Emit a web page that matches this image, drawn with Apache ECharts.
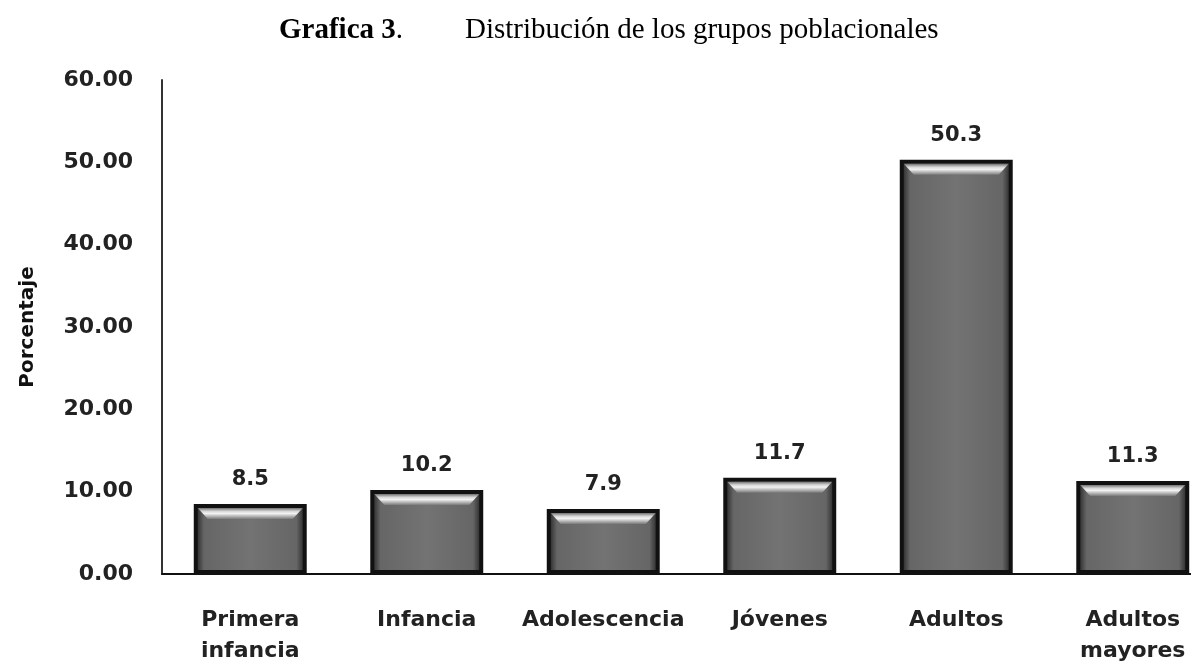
<!DOCTYPE html>
<html>
<head>
<meta charset="utf-8">
<script src="https://cdn.jsdelivr.net/npm/echarts@6/dist/echarts.min.js"></script>
<style>
html,body{margin:0;padding:0;background:#fff;overflow:hidden;width:1191px;height:667px;}
#c{width:1232px;height:667px;}
</style>
</head>
<body>
<div id="c"></div>
<script>
const categories = ['Primera\ninfancia', 'Infancia', 'Adolescencia', 'Jóvenes', 'Adultos', 'Adultos\nmayores'];
const values = [8.5, 10.2, 7.9, 11.7, 50.3, 11.3];
const yTicks = [0, 10, 20, 30, 40, 50, 60];

const chart = echarts.init(document.getElementById('c'));
const BW = 0.64;

function renderBevel(params, api) {
  const idx = api.value(0);
  const v = api.value(1);
  const top = api.coord([idx, v]);
  const base = api.coord([idx, 0]);
  const w = api.size([1, 0])[0] * BW;
  const x0 = top[0] - w / 2;
  const y0 = top[1];
  const h = base[1] - top[1];
  const b = 4;
  return {
    type: 'group',
    children: [
      {
        type: 'rect',
        shape: { x: x0 + b, y: y0 + b, width: w - 2 * b, height: h - b - 4 },
        style: {
          fill: new echarts.graphic.LinearGradient(0, 0, 1, 0, [
            { offset: 0, color: '#353535' },
            { offset: 0.06, color: '#666666' },
            { offset: 0.5, color: '#737373' },
            { offset: 0.94, color: '#666666' },
            { offset: 1, color: '#353535' }
          ])
        }
      },
      {
        type: 'polygon',
        shape: { points: [[x0 + b, y0 + b], [x0 + w - b, y0 + b], [x0 + w - b - 10, y0 + b + 11], [x0 + b + 10, y0 + b + 11]] },
        style: {
          fill: new echarts.graphic.LinearGradient(0, 0, 0, 1, [
            { offset: 0, color: '#707070' },
            { offset: 0.3, color: '#d8d8d8' },
            { offset: 0.5, color: '#f2f2f2' },
            { offset: 1, color: '#7a7a7a' }
          ])
        }
      }
    ]
  };
}

chart.setOption({
  animation: false,
  title: {
    text: '{b|Grafica 3}{r|.}{sp| }{r|Distribución de los grupos poblacionales}',
    left: 274,
    top: 11,
    textStyle: {
      rich: {
        b: { fontFamily: 'Liberation Serif', fontWeight: 'bold', fontSize: 29, color: '#000' },
        r: { fontFamily: 'Liberation Serif', fontWeight: 'normal', fontSize: 29, color: '#000' },
        sp: { width: 62, fontSize: 29 }
      }
    }
  },
  grid: { left: 162, top: 80, right: 11, height: 497, containLabel: false },
  xAxis: {
    type: 'category',
    data: categories,
    axisLine: { lineStyle: { color: '#111', width: 2 } },
    axisTick: { show: false },
    axisLabel: {
      margin: 31,
      fontFamily: 'DejaVu Sans',
      fontWeight: 'bold',
      fontSize: 22,
      color: '#222',
      lineHeight: 31,
      interval: 0
    }
  },
  yAxis: {
    type: 'value',
    min: 0,
    max: 60,
    interval: 10,
    name: 'Porcentaje',
    nameLocation: 'middle',
    nameGap: 124,
    nameRotate: 90,
    nameTextStyle: { fontFamily: 'DejaVu Sans', fontWeight: 'bold', fontSize: 20, color: '#111' },
    axisLine: { show: true, lineStyle: { color: '#333', width: 2 } },
    axisTick: { show: false },
    splitLine: { show: false },
    axisLabel: {
      margin: 29,
      fontFamily: 'DejaVu Sans',
      fontWeight: 'bold',
      fontSize: 22,
      color: '#222',
      formatter: v => yTicks.includes(v) ? v.toFixed(2) : ''
    }
  },
  series: [
    {
      type: 'bar',
      data: values,
      barWidth: (BW * 100) + '%',
      itemStyle: { color: '#111' },
      label: {
        show: true,
        position: 'top',
        distance: 14,
        fontFamily: 'DejaVu Sans',
        fontWeight: 'bold',
        fontSize: 21,
        color: '#222'
      },
      z: 2
    },
    {
      type: 'custom',
      data: values.map((v, i) => [i, v]),
      renderItem: renderBevel,
      z: 3,
      silent: true
    }
  ]
});
</script>
</body>
</html>
